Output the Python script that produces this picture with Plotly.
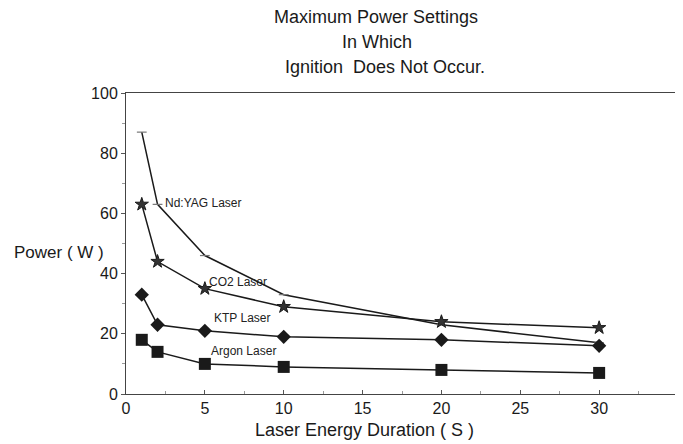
import plotly.graph_objects as go

durations = [1, 2, 5, 10, 20, 30]
ndyag = [87, 63, 46, 33, 23, 17]
co2 = [63, 44, 35, 29, 24, 22]
ktp = [33, 23, 21, 19, 18, 16]
argon = [18, 14, 10, 9, 8, 7]

series_names = ["Nd:YAG Laser", "CO2 Laser", "KTP Laser", "Argon Laser"]
label_x = [2.35, 5.14, 5.45, 5.26]
label_y = [63.5, 37.2, 25.2, 14.3]

title_lines = ["Maximum Power Settings", "In Which", "Ignition  Does Not Occur."]
x_ticks = [0, 5, 10, 15, 20, 25, 30]
y_ticks = [0, 20, 40, 60, 80, 100]

FONT = "Liberation Sans, Arial, sans-serif"
INK = "#1a1a1a"

fig = go.Figure()
fig.add_trace(go.Scatter(x=durations, y=ndyag, mode="lines+markers",
                         line=dict(color=INK, width=1.5),
                         marker=dict(symbol="line-ew", size=7, line=dict(color="#777", width=1.2)),
                         name=series_names[0]))
fig.add_trace(go.Scatter(x=durations, y=co2, mode="lines+markers",
                         line=dict(color=INK, width=1.5),
                         marker=dict(symbol="star", size=10, color="#333", line=dict(color=INK, width=1)),
                         name=series_names[1]))
fig.add_trace(go.Scatter(x=durations, y=ktp, mode="lines+markers",
                         line=dict(color=INK, width=1.5),
                         marker=dict(symbol="diamond", size=11, color=INK),
                         name=series_names[2]))
fig.add_trace(go.Scatter(x=durations, y=argon, mode="lines+markers",
                         line=dict(color=INK, width=1.5),
                         marker=dict(symbol="square", size=12, color=INK),
                         name=series_names[3]))

for name, lx, ly in zip(series_names, label_x, label_y):
    fig.add_annotation(x=lx, y=ly, text=name, showarrow=False, xanchor="left", yanchor="middle",
                       font=dict(family=FONT, size=12, color="#222"))

# title lines (plot area spans 126..678 px horizontally, top at 93 px)
title_cx = [376, 377, 385]
title_cy = [17, 42, 67]
for txt, cx, cy in zip(title_lines, title_cx, title_cy):
    fig.add_annotation(xref="paper", yref="paper", x=(cx - 126) / 552, y=1, yshift=93 - cy,
                       xanchor="center", yanchor="middle", text=txt, showarrow=False,
                       font=dict(family=FONT, size=18, color=INK))

fig.add_annotation(xref="paper", yref="y", x=0, y=47, xanchor="right", xshift=-20,
                   text="Power ( W )", showarrow=False,
                   font=dict(family=FONT, size=17, color=INK))
fig.add_annotation(xref="x", yref="paper", x=15.1, y=0, yshift=-36, yanchor="middle",
                   text="Laser Energy Duration ( S )", showarrow=False,
                   font=dict(family=FONT, size=18, color=INK))

# page body adds an 8px offset; compensate so the plot sits at 126..678 x 93..394
fig.update_layout(
    width=675, height=436,
    margin=dict(l=118, r=5, t=85, b=50),
    paper_bgcolor="white", plot_bgcolor="white",
    showlegend=False,
    font=dict(family=FONT, size=16, color=INK),
)
fig.update_xaxes(range=[0, 35], tickvals=x_ticks, ticks="inside", ticklen=4, tickcolor="#555",
                 showline=True, linecolor="#444", linewidth=1, mirror=True,
                 showgrid=False, zeroline=False, tickfont=dict(size=16),
                 minor=dict(tickvals=[2.5, 7.5, 12.5, 17.5, 22.5, 27.5, 32.5], ticks="inside", ticklen=3, tickcolor="#999"))
fig.update_yaxes(range=[0, 100], tickvals=y_ticks, ticks="outside", ticklen=4, tickcolor="#555",
                 showline=True, linecolor="#444", linewidth=1, mirror=True,
                 showgrid=False, zeroline=False, tickfont=dict(size=16),
                 minor=dict(tickvals=[10, 30, 50, 70, 90], ticks="outside", ticklen=3, tickcolor="#999"))

fig.write_html("out.html")
